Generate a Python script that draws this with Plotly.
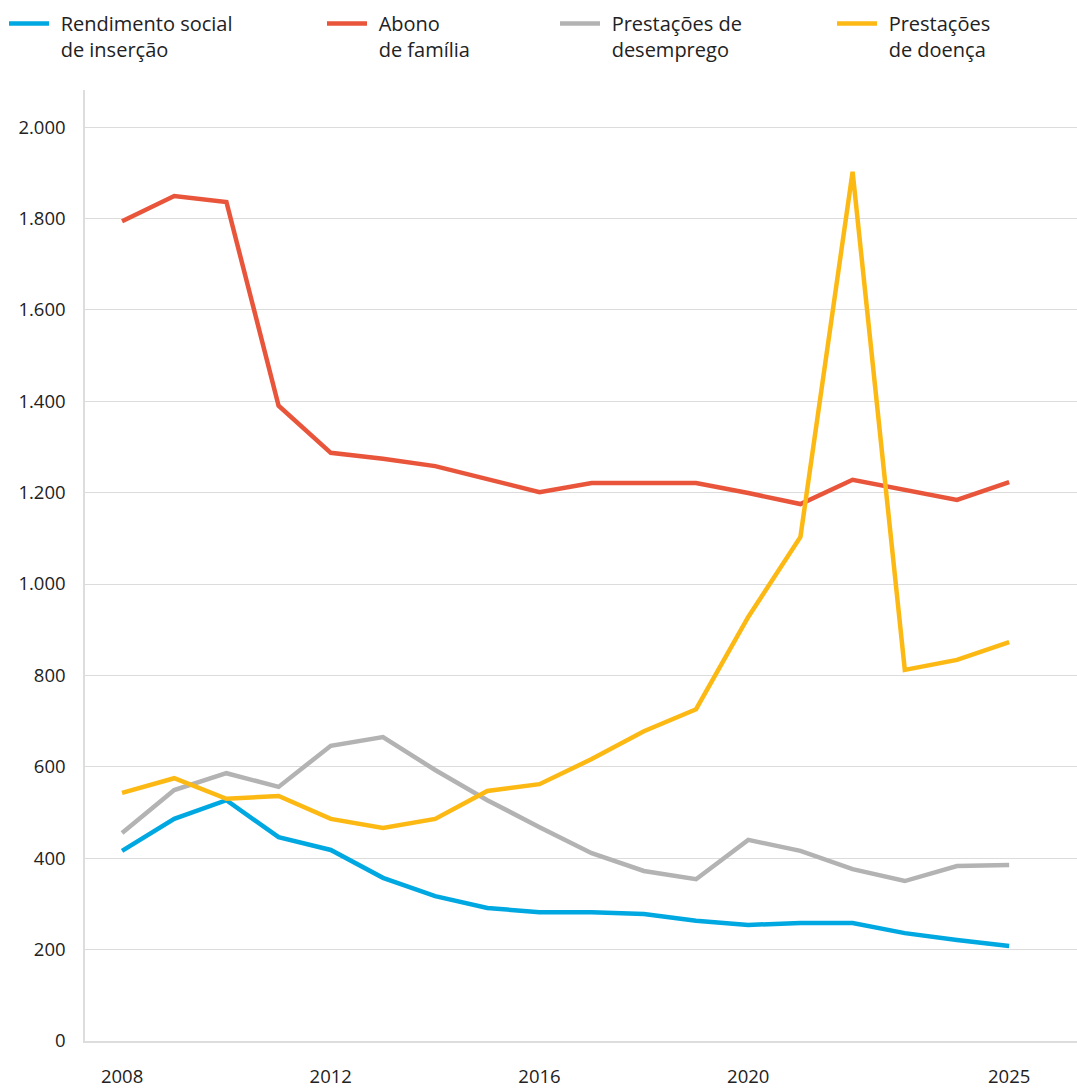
import plotly.graph_objects as go

years = list(range(2008, 2026))

rsi = [416, 486, 527, 446, 418, 357, 317, 291, 282, 282, 278, 263, 254, 258, 258, 236, 221, 208]
abono = [1794, 1849, 1836, 1390, 1287, 1274, 1258, 1230, 1201, 1221, 1221, 1221, 1199, 1175, 1228, 1206, 1184, 1223]
desemprego = [455, 549, 586, 556, 646, 665, 593, 527, 468, 411, 372, 354, 440, 416, 376, 350, 383, 385]
doenca = [543, 575, 530, 536, 486, 466, 486, 547, 562, 617, 678, 726, 928, 1103, 1902, 812, 834, 873]

names = ["Rendimento social<br>de inserção", "Abono<br>de família",
         "Prestações de<br>desemprego", "Prestações<br>de doença"]
colors = ["#00A8E1", "#E9553B", "#B3B3B3", "#FDB913"]
series = [rsi, abono, desemprego, doenca]

x_ticks = [2008, 2012, 2016, 2020, 2025]
y_ticks = list(range(0, 2001, 200))

W, H = 1077, 1088
legend_px = [4, 322, 555, 832]
PAD = "\u2009\u2009"

fig = go.Figure()
for i, (nm, col, vals) in enumerate(zip(names, colors, series)):
    lg = "legend" if i == 0 else f"legend{i+1}"
    label = "<br>".join(PAD + part for part in nm.split("<br>"))
    fig.add_trace(go.Scatter(x=years, y=vals, name=label, mode="lines",
                             line=dict(color=col, width=4.5),
                             legend=lg, showlegend=True))

font_family = "Open Sans, Noto Sans, sans-serif"
legend_common = dict(orientation="h", xref="container", yref="container",
                     y=1 - 4 / H, yanchor="top", xanchor="left",
                     font=dict(family=font_family, size=20, color="#222222"),
                     bgcolor="rgba(0,0,0,0)", valign="top", itemwidth=40,
                     tracegroupgap=0)
layout_legends = {}
for i, px in enumerate(legend_px):
    key = "legend" if i == 0 else f"legend{i+1}"
    layout_legends[key] = dict(legend_common, x=px / W)

fig.update_layout(
    width=W, height=H,
    showlegend=True,
    margin=dict(l=85, r=0, t=90, b=40),
    paper_bgcolor="white", plot_bgcolor="white",
    separators=",.",
    font=dict(family=font_family, size=18.5, color="#222222"),
    xaxis=dict(range=[2007.29, 2026.30], tickvals=x_ticks,
               ticktext=[str(t) for t in x_ticks],
               showgrid=False, zeroline=False,
               showline=True, linecolor="#dddddd", linewidth=1.5,
               ticks="", ticklabelstandoff=18,
               tickfont=dict(size=18.5, color="#222222")),
    yaxis=dict(range=[0, 2081], tickvals=y_ticks, tickformat=",",
               showgrid=True, gridcolor="#dcdcdc", gridwidth=1,
               zeroline=False, showline=True, linecolor="#dddddd", linewidth=1.5,
               ticks="", ticklabelstandoff=14,
               tickfont=dict(size=18.5, color="#222222")),
    **layout_legends,
)

fig.write_html("out.html", config={"displayModeBar": False},
               post_script="document.body.style.margin='0';")
